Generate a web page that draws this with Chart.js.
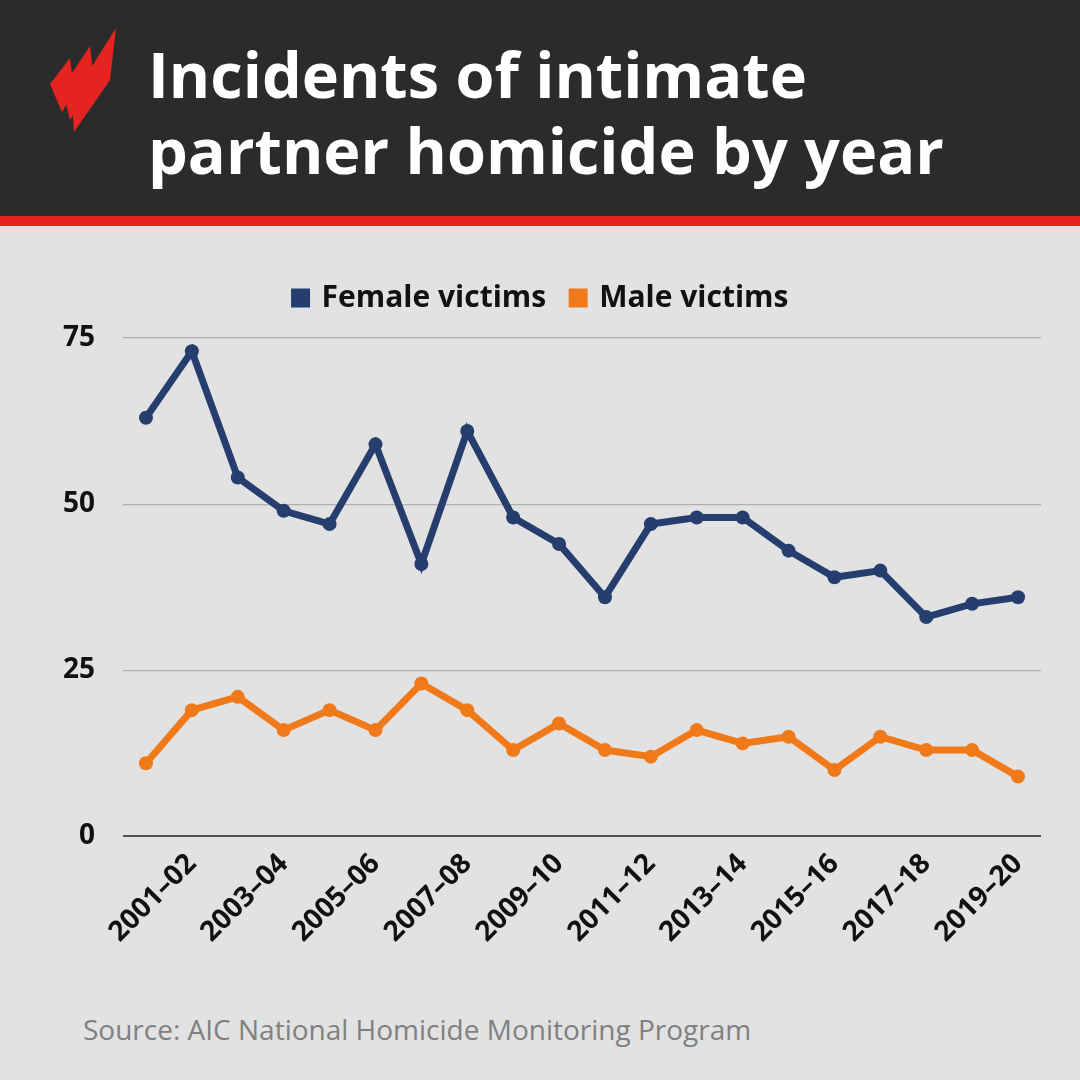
<!DOCTYPE html>
<html><head><meta charset="utf-8">
<script src="https://cdn.jsdelivr.net/npm/chart.js@4/dist/chart.umd.min.js"></script>
<style>
body{margin:0;width:1080px;height:1080px;background:#e2e2e2;font-family:"Open Sans",sans-serif;overflow:hidden;position:relative}
#hdr{position:absolute;left:0;top:0;width:1080px;height:216px;background:#2b2b2b;border-bottom:10px solid #e5231f}
#title{position:absolute;left:148px;top:36px;color:#fff;font:bold 63px/76px "Open Sans",sans-serif}
#logo{position:absolute;left:44px;top:28px}
#wrap{position:absolute;left:35px;top:257px;width:1013px;height:695px}
#src{position:absolute;left:83px;top:1010px;color:#808080;font:28px "Open Sans",sans-serif}
</style></head><body>
<div id="hdr"><svg id="logo" width="80" height="110" viewBox="0 0 80 110">
<polygon points="6,56 26,30 30,64 18,84" fill="#e5231f"/>
<polygon points="18,60 46,18 50,52 26,92" fill="#e5231f"/>
<polygon points="28,70 72,0 66,52 30,104" fill="#e5231f"/>
</svg><div id="title">Incidents of intimate<br>partner homicide by year</div></div>
<div id="wrap"><canvas id="c"></canvas></div>
<div id="src">Source: AIC National Homicide Monitoring Program</div>
<script>
const years=["2000–01","2001–02","2002–03","2003–04","2004–05","2005–06","2006–07","2007–08","2008–09","2009–10","2010–11","2011–12","2012–13","2013–14","2014–15","2015–16","2016–17","2017–18","2018–19","2019–20"];
const female=[63,73,54,49,47,59,41,61,48,44,36,47,48,48,43,39,40,33,35,36];
const male=[11,19,21,16,19,16,23,19,13,17,13,12,16,14,15,10,15,13,13,9];
const yTicks=[0,25,50,75];
const ds=(l,d,c)=>({label:l,data:d,borderColor:c,backgroundColor:c,borderWidth:7,pointRadius:7,pointBackgroundColor:c,pointBorderWidth:0,tension:0});
const legendGap={id:'lg',beforeInit(c){const f=c.legend.fit;c.legend.fit=function(){f.call(this);this.height+=15;}}};
new Chart(document.getElementById('c'),{type:'line',plugins:[legendGap],
data:{labels:years,datasets:[ds('Female victims',female,'#253e6e'),ds('Male victims',male,'#f07a1a')]},
options:{responsive:true,maintainAspectRatio:false,animation:false,
layout:{padding:0},
plugins:{legend:{labels:{font:{family:'Open Sans',size:30,weight:'bold'},color:'#111',boxWidth:12,boxHeight:12,padding:26},onClick:null},tooltip:{enabled:false}},
scales:{x:{offset:true,grid:{display:false},border:{display:false},
 ticks:{autoSkip:false,maxRotation:45,minRotation:45,color:'#111',font:{family:'Open Sans',size:28,weight:'bold'},
 callback:(v,i)=>i%2===1?years[i]:''}},
 y:{min:0,max:75,afterBuildTicks:a=>{a.ticks=yTicks.map(v=>({value:v}))},border:{display:false},
 grid:{color:c=>c.tick.value===0?'#555':'#b0b0b0',lineWidth:c=>c.tick.value===0?2:1.2,drawTicks:false},
 ticks:{padding:28,color:'#111',font:{family:'Open Sans',size:28,weight:'bold'}}}}}});
</script></body></html>
